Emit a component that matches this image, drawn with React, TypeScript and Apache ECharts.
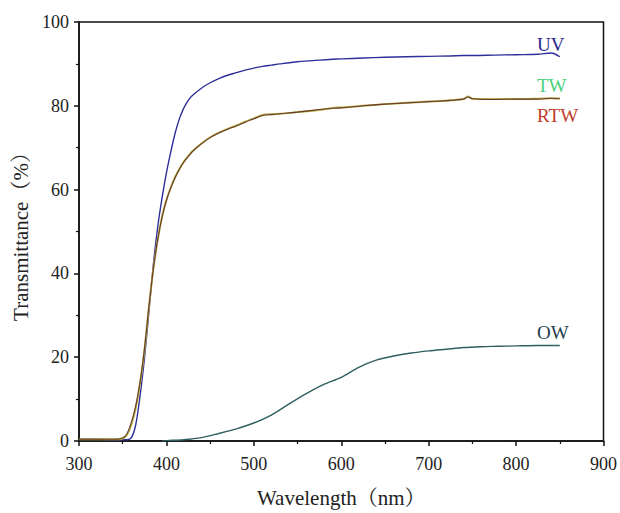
import React, { useEffect, useRef } from "react";
import * as echarts from "echarts";

const wavelengths = [300, 320, 340, 350, 355, 360, 365, 370, 375, 380, 385, 390, 395, 400, 405, 410, 415, 420, 425, 430, 440, 450, 460, 470, 480, 490, 500, 510, 520, 530, 550, 575, 590, 600, 625, 650, 675, 700, 725, 740, 745, 750, 775, 800, 825, 840, 845, 850];
const uvValues = [0.4, 0.4, 0.3, 0.3, 0.3, 0.8, 4, 11, 20, 31, 42, 51, 58, 64, 69, 73.5, 77, 79.5, 81.3, 82.5, 84.2, 85.5, 86.5, 87.3, 87.9, 88.5, 89, 89.4, 89.7, 90, 90.5, 90.9, 91.1, 91.2, 91.4, 91.6, 91.7, 91.8, 91.9, 92, 92, 92, 92.1, 92.2, 92.3, 92.6, 92.3, 91.7];
const twValues = [0.4, 0.4, 0.4, 0.6, 1.5, 4, 8, 14, 22, 32, 41, 48, 53.5, 57.5, 60.5, 63, 65, 66.7, 68, 69.2, 71, 72.5, 73.6, 74.5, 75.3, 76.2, 77, 77.8, 78, 78.1, 78.5, 79, 79.5, 79.6, 80, 80.4, 80.7, 81, 81.3, 81.6, 82.2, 81.7, 81.6, 81.6, 81.7, 81.8, 81.8, 81.7];
const rtwValues = [0.4, 0.4, 0.4, 0.7, 1.8, 4.5, 8.5, 14.3, 22.2, 32, 41, 48, 53.4, 57.4, 60.4, 62.9, 64.9, 66.6, 67.9, 69.1, 70.9, 72.4, 73.5, 74.4, 75.2, 76.1, 76.9, 77.7, 77.9, 78.1, 78.5, 79.1, 79.4, 79.5, 80, 80.4, 80.7, 81, 81.3, 81.6, 82.1, 81.7, 81.5, 81.6, 81.6, 81.8, 81.7, 81.8];
const owWavelengths = [395, 400, 420, 440, 460, 480, 500, 520, 540, 560, 580, 600, 620, 640, 660, 680, 700, 720, 740, 760, 780, 800, 825, 850];
const owValues = [0, 0.1, 0.3, 0.8, 1.8, 2.9, 4.3, 6.2, 8.8, 11.3, 13.5, 15.2, 17.6, 19.3, 20.3, 21.0, 21.5, 21.9, 22.3, 22.5, 22.6, 22.7, 22.8, 22.8];
const seriesNames = ["UV", "TW", "RTW", "OW"];

const pair = (xs: number[], ys: number[]) => xs.map((x, i) => [x, ys[i]]);

export default function App() {
  const ref = useRef<HTMLDivElement>(null);
  useEffect(() => {
    if (!ref.current) return;
    document.body.style.margin = "0";
    const chart = echarts.init(ref.current, null, { renderer: "svg" });
    const font = "'Liberation Serif', 'Times New Roman', 'Noto Serif CJK SC', 'Noto Sans CJK SC', serif";
    const lineBase = { type: "line", symbol: "none", smooth: 0.3, animation: false } as const;
    chart.setOption({
      animation: false,
      backgroundColor: "#ffffff",
      grid: { left: 79, right: 16, top: 22, bottom: 68, show: true, borderColor: "#111", borderWidth: 1.5 },
      xAxis: {
        type: "value",
        min: 300,
        max: 900,
        interval: 100,
        name: "Wavelength（nm）",
        nameLocation: "middle",
        nameGap: 46,
        nameTextStyle: { fontFamily: font, fontSize: 21, color: "#222" },
        axisLine: { lineStyle: { color: "#111", width: 1.5 } },
        axisTick: { show: true, inside: false, length: 5, lineStyle: { color: "#111", width: 1.5 } },
        minorTick: { show: true, splitNumber: 2, length: 3, lineStyle: { color: "#111", width: 1.2 } },
        axisLabel: { fontFamily: font, fontSize: 18, color: "#222", margin: 14 },
        splitLine: { show: false },
      },
      yAxis: {
        type: "value",
        min: 0,
        max: 100,
        interval: 20,
        name: "Transmittance（%）",
        nameLocation: "middle",
        nameGap: 46,
        nameTextStyle: { fontFamily: font, fontSize: 21, color: "#222" },
        axisLine: { show: true, lineStyle: { color: "#111", width: 1.5 } },
        axisTick: { show: true, inside: false, length: 5, lineStyle: { color: "#111", width: 1.5 } },
        minorTick: { show: true, splitNumber: 2, length: 3, lineStyle: { color: "#111", width: 1.2 } },
        axisLabel: { fontFamily: font, fontSize: 18, color: "#222", margin: 10 },
        splitLine: { show: false },
      },
      series: [
        { ...lineBase, name: seriesNames[0], data: pair(wavelengths, uvValues), lineStyle: { color: "#2f2f9c", width: 1.4 } },
        { ...lineBase, name: seriesNames[1], data: pair(wavelengths, twValues), lineStyle: { color: "#b5b04a", width: 2 } },
        { ...lineBase, name: seriesNames[2], data: pair(wavelengths, rtwValues), lineStyle: { color: "#6a3a2c", width: 1.1 } },
        { ...lineBase, name: seriesNames[3], data: pair(owWavelengths, owValues), lineStyle: { color: "#2f5f60", width: 1.4 } },
      ],
      graphic: [
        { type: "text", left: 537, top: 35, style: { text: seriesNames[0], fontFamily: font, fontSize: 19, fill: "#2a2a8c" } },
        { type: "text", left: 537, top: 76, style: { text: seriesNames[1], fontFamily: font, fontSize: 19, fill: "#49cf7c" } },
        { type: "text", left: 537, top: 106, style: { text: seriesNames[2], fontFamily: font, fontSize: 19, fill: "#c0392b" } },
        { type: "text", left: 537, top: 323, style: { text: seriesNames[3], fontFamily: font, fontSize: 19, fill: "#23404c" } },
      ],
    });
    return () => chart.dispose();
  }, []);
  return <div ref={ref} style={{ position: "absolute", left: 0, top: 0, width: 620, height: 513 }} />;
}
